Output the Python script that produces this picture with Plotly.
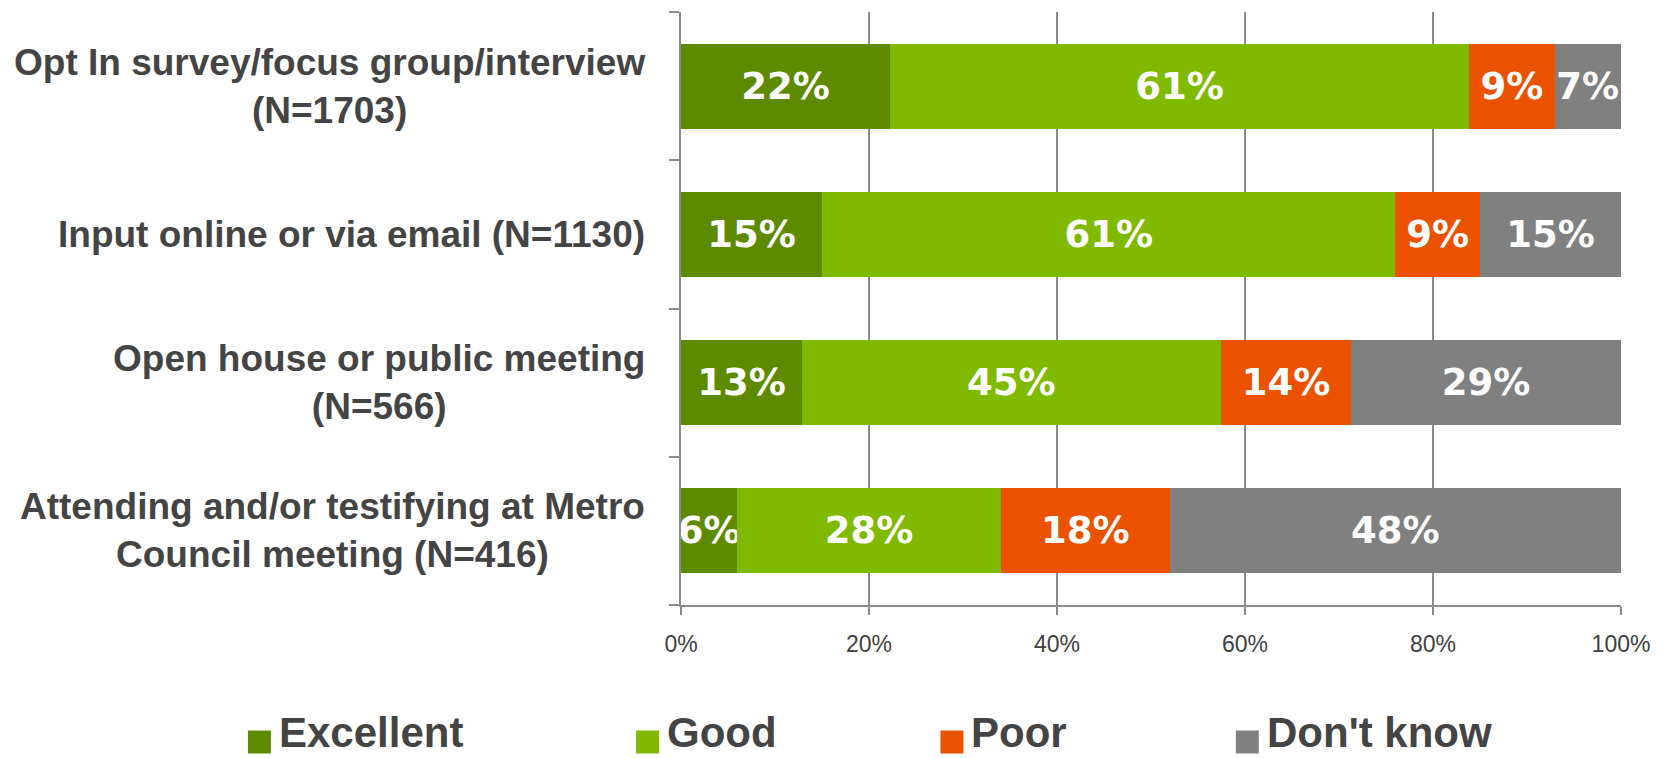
import plotly.graph_objects as go

# Survey responses: rating of each engagement channel (percent of respondents)
channels = [
    "Opt In survey/focus group/interview<br>(N=1703)",
    "Input online or via email (N=1130)",
    "Open house or public meeting<br>(N=566)",
    "Attending and/or testifying at Metro<br>Council meeting (N=416)",
]
series_names = ["Excellent", "Good", "Poor", "Don't know"]
excellent = [22, 15, 13, 6]
good = [61, 61, 45, 28]
poor = [9, 9, 14, 18]
dont_know = [7, 15, 29, 48]
x_ticks = [0, 20, 40, 60, 80, 100]
x_tick_labels = ["0%", "20%", "40%", "60%", "80%", "100%"]

series_values = [excellent, good, poor, dont_know]
colors = ["#5E8A00", "#80BA00", "#EA5200", "#808080"]

W, H = 1662, 758
M_L, M_R, M_T, M_B = 681, 39, 12, 153
PW, PH = W - M_L - M_R, H - M_T - M_B

AXIS_GREY = "#8C8C8C"
TEXT_GREY = "#444444"
LABEL_FONT = "Liberation Sans, Arial, sans-serif"
BAR_TEXT_SIZE = 37


def px_x(px):
    return (px - M_L) / PW


def px_y(py):
    return (H - M_B - py) / PH


fig = go.Figure()
for i, (name, vals, col) in enumerate(zip(series_names, series_values, colors)):
    fig.add_trace(go.Bar(
        y=channels,
        x=vals,
        name=name,
        orientation="h",
        marker=dict(color=col, line=dict(width=0)),
        text=[f"{v}%" for v in vals],
        textposition="inside",
        insidetextanchor="middle",
        textangle=0,
        constraintext="none",
        cliponaxis=False,
        textfont=dict(family="DejaVu Sans", size=BAR_TEXT_SIZE, color="white",
                      weight="bold"),
        showlegend=False,
        hoverinfo="skip",
    ))

# Category labels, centred line by line, to the left of the bars
annotations = []
for ch in channels:
    annotations.append(dict(
        x=0, xref="paper", y=ch, yref="y",
        text=f"<b>{ch}</b>", showarrow=False,
        xanchor="right", yanchor="middle", align="center",
        xshift=-34,
        font=dict(family=LABEL_FONT, size=37, color=TEXT_GREY),
    ))

# Legend row beneath the axis
legend_left_px = [247, 636, 941, 1237]
sq = 23
legend_cy = 742
shapes = []
for name, col, lx in zip(series_names, colors, legend_left_px):
    shapes.append(dict(
        type="rect", xref="paper", yref="paper",
        x0=px_x(lx), x1=px_x(lx + sq),
        y0=px_y(legend_cy + sq / 2), y1=px_y(legend_cy - sq / 2),
        fillcolor=col, line=dict(width=0),
    ))
    annotations.append(dict(
        x=px_x(lx + sq + 6), xref="paper", y=px_y(H), yref="paper",
        text=f"<b>{name}</b>", showarrow=False,
        xanchor="left", yanchor="bottom",
        font=dict(family=LABEL_FONT, size=42, color=TEXT_GREY),
    ))

fig.update_layout(
    width=W, height=H,
    margin=dict(l=M_L, r=M_R, t=M_T, b=M_B, pad=0),
    barmode="stack",
    barnorm="percent",
    bargap=0.427,
    paper_bgcolor="white",
    plot_bgcolor="white",
    annotations=annotations,
    shapes=shapes,
    showlegend=False,
    uniformtext=dict(minsize=BAR_TEXT_SIZE, mode="show"),
    xaxis=dict(
        # a hair past 100 so the normalised stack end stays inside the range
        range=[0, 100.0001],
        tickvals=x_ticks,
        ticktext=x_tick_labels,
        showgrid=True, gridcolor=AXIS_GREY, gridwidth=1.5,
        zeroline=False,
        showline=True, linecolor=AXIS_GREY, linewidth=2,
        ticks="outside", ticklen=8, tickwidth=1.5, tickcolor=AXIS_GREY,
        ticklabelstandoff=9,
        tickfont=dict(family=LABEL_FONT, size=23, color="#404040"),
    ),
    yaxis=dict(
        categoryorder="array",
        categoryarray=channels[::-1],
        showticklabels=False,
        showgrid=False,
        showline=True, linecolor=AXIS_GREY, linewidth=2,
        ticks="outside", tickson="boundaries", ticklen=10,
        tickwidth=1.5, tickcolor=AXIS_GREY,
    ),
)

fig.write_html("out.html")
